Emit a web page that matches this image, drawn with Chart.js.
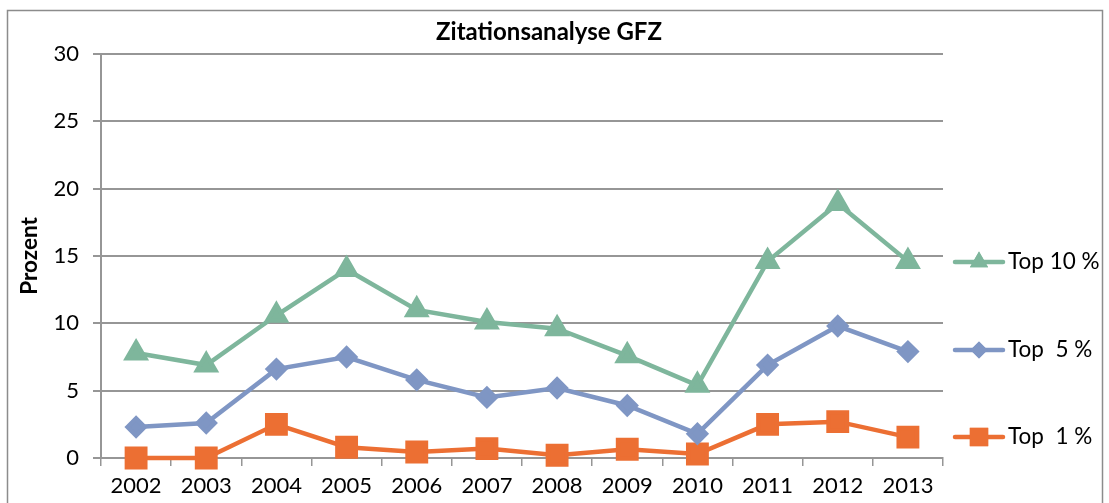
<!DOCTYPE html>
<html><head><meta charset="utf-8">
<script src="https://cdn.jsdelivr.net/npm/chart.js@4"></script>
<style>html,body{margin:0;padding:0;background:#fff;}#wrap{width:1109px;height:503px;}</style>
</head><body><div id="wrap"><canvas id="c" width="1109" height="503"></canvas></div>
<script>
const years = ["2002","2003","2004","2005","2006","2007","2008","2009","2010","2011","2012","2013"];
const top10 = [7.8, 6.9, 10.6, 14.0, 11.0, 10.1, 9.6, 7.6, 5.4, 14.6, 18.9, 14.6];
const top5  = [2.3, 2.6, 6.6, 7.5, 5.8, 4.5, 5.2, 3.9, 1.8, 6.9, 9.8, 7.9];
const top1  = [0.0, 0.0, 2.5, 0.8, 0.45, 0.7, 0.2, 0.65, 0.3, 2.5, 2.7, 1.55];
const seriesNames = ["Top 10 %", "Top  5 %", "Top  1 %"];
const yTicks = [0, 5, 10, 15, 20, 25, 30];
const titleText = "Zitationsanalyse GFZ";
const yTitle = "Prozent";

const green = "#7EB69C", blue = "#7F96C4", orange = "#EC6F33";
const gridCol = "#969696";
const FONT = "Lato, 'Open Sans', sans-serif";

const framePlugin = {
  id: 'frame',
  beforeDraw(chart) {
    const ctx = chart.ctx;
    ctx.save();
    ctx.fillStyle = '#fff';
    ctx.fillRect(0, 0, chart.width, chart.height);
    ctx.strokeStyle = '#8c8c8c';
    ctx.lineWidth = 1.5;
    ctx.strokeRect(7.5, 10.5, 1095, 520);
    ctx.restore();
  },
  afterDraw(chart) {
    const ctx = chart.ctx;
    ctx.save();
    ctx.fillStyle = '#000';
    ctx.font = "bold 24px " + FONT;
    ctx.textAlign = 'center';
    ctx.textBaseline = 'middle';
    ctx.fillText(titleText, 549, 32);
    const ys = [262, 350, 437];
    chart.data.datasets.forEach((ds, i) => {
      const y = ys[i];
      ctx.strokeStyle = ds.borderColor;
      ctx.lineWidth = ds.borderWidth;
      ctx.lineCap = 'round';
      ctx.beginPath();
      ctx.moveTo(955, y);
      ctx.lineTo(1003, y);
      ctx.stroke();
      ctx.fillStyle = ds.pointBackgroundColor;
      Chart.helpers.drawPoint(ctx, {pointStyle: ds.pointStyle, radius: ds.pointRadius, rotation: 0, borderWidth: 0}, 979, y);
      ctx.fill();
      ctx.fillStyle = '#000';
      ctx.font = "22.5px " + FONT;
      ctx.textAlign = 'left';
      ctx.fillText(ds.label, 1008, y);
    });
    ctx.restore();
  }
};

new Chart(document.getElementById('c'), {
  type: 'line',
  data: {
    labels: years,
    datasets: [
      {label: seriesNames[0], data: top10, borderColor: green, backgroundColor: green, pointBackgroundColor: green, pointBorderColor: green, pointStyle: 'triangle', pointRadius: 10.5, borderWidth: 4.5, clip: false},
      {label: seriesNames[1], data: top5, borderColor: blue, backgroundColor: blue, pointBackgroundColor: blue, pointBorderColor: blue, pointStyle: 'rectRot', pointRadius: 8.5, borderWidth: 4.5, clip: false},
      {label: seriesNames[2], data: top1, borderColor: orange, backgroundColor: orange, pointBackgroundColor: orange, pointBorderColor: orange, pointStyle: 'rect', pointRadius: 13, borderWidth: 4.5, clip: false}
    ]
  },
  options: {
    responsive: false,
    animation: false,
    layout: {padding: {left: 10, right: 166, top: 54, bottom: 0}},
    plugins: {legend: {display: false}, title: {display: false}, tooltip: {enabled: false}},
    elements: {line: {tension: 0}, point: {borderWidth: 0}},
    scales: {
      x: {
        offset: true,
        grid: {offset: true, drawOnChartArea: false, color: gridCol, lineWidth: 1.5, tickLength: 8},
        border: {color: gridCol, width: 2},
        ticks: {color: '#000', font: {family: FONT, size: 22}, padding: 7, maxRotation: 0},
        afterFit(s) { s.height = 45; }
      },
      y: {
        min: 0, max: 30,
        afterBuildTicks(s) { s.ticks = yTicks.map(v => ({value: v})); },
        grid: {color: gridCol, lineWidth: 2, tickLength: 8},
        border: {color: gridCol, width: 2},
        ticks: {color: '#000', font: {family: FONT, size: 22}, padding: 14},
        title: {display: true, text: yTitle, color: '#000', font: {family: FONT, size: 22.5, weight: 'bold'}, padding: {top: 6, bottom: 0}},
        afterFit(s) { s.width = 91; }
      }
    }
  },
  plugins: [framePlugin]
});
</script>
</body></html>
